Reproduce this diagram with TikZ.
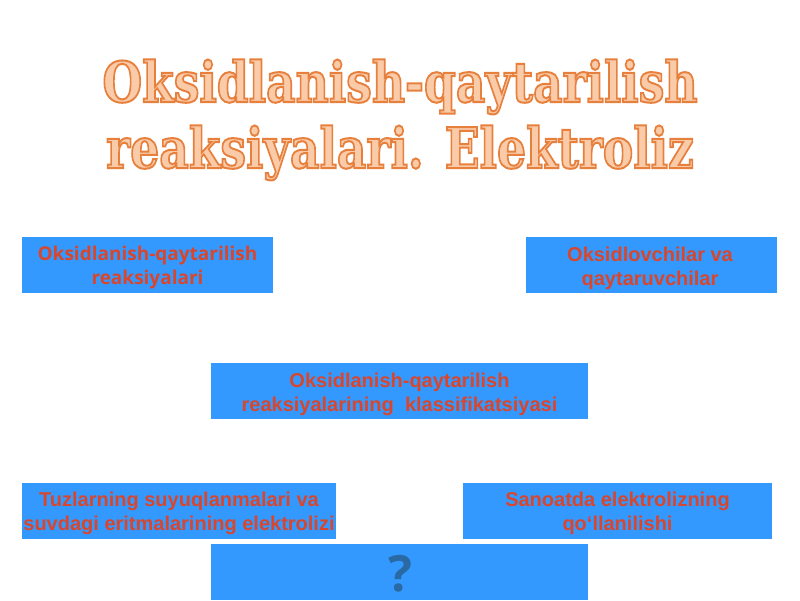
\documentclass[tikz,border=0pt]{standalone}
\usepackage{fontspec}
\setmainfont{Liberation Sans}
\newfontfamily\titlefont{DejaVu Serif}
\newfontfamily\qfont{Open Sans}
\definecolor{boxblue}{HTML}{3399FF}
\definecolor{boxtext}{HTML}{D9462C}
\definecolor{tfill}{HTML}{F9CBA8}
\definecolor{qcol}{HTML}{2A6AA4}
\newcommand{\outlined}[1]{%
  {\color{tfill}\special{pdf:code 2 Tr 2 w 0.91 0.50 0.24 RG}#1\special{pdf:code 0 Tr}}}
\tikzset{
  boxlabel/.style={text=boxtext, font=\bfseries\fontsize{20}{24}\selectfont, align=center, inner sep=0pt},
  titletext/.style={font=\titlefont\bfseries\fontsize{56}{66}\selectfont, inner sep=0pt}
}
\begin{document}
\begin{tikzpicture}[x=1pt,y=-1pt]
\useasboundingbox (0,0) rectangle (800,600);
\fill[white] (0,0) rectangle (800,600);
% title
\node[titletext, anchor=base] (t1) at (400,102) {\scalebox{0.815}[1]{\outlined{Oksidlanish-qaytarilish}}};
\node[titletext, anchor=base] (t2) at (400,168) {\scalebox{0.815}[1]{\outlined{reaksiyalari. Elektroliz}}};
% boxes
\fill[boxblue] (22,237) rectangle (273,293);
\node[boxlabel, font=\qfont\bfseries\fontsize{19}{24}\selectfont] (b1) at (147.5,268) {Oksidlanish-qaytarilish\\reaksiyalari};
\fill[boxblue] (526,237) rectangle (777,293);
\node[boxlabel] (b2) at (650,268) {Oksidlovchilar va\\qaytaruvchilar};
\fill[boxblue] (211,363) rectangle (588,419);
\node[boxlabel] (b3) at (399.5,394) {Oksidlanish-qaytarilish\\reaksiyalarining\ \ klassifikatsiyasi};
\fill[boxblue] (22,483) rectangle (336,539);
\node[boxlabel] (b4) at (179,513) {Tuzlarning suyuqlanmalari va\\suvdagi eritmalarining elektrolizi};
\fill[boxblue] (463,483) rectangle (772,539);
\node[boxlabel] (b5) at (617.5,513) {Sanoatda elektrolizning\\qo‘llanilishi};
\fill[boxblue] (211,544) rectangle (588,600);
\node[text=qcol, font=\qfont\bfseries\fontsize{50}{50}\selectfont, inner sep=0pt, anchor=base] (q) at (400,591) {?};
\end{tikzpicture}
\end{document}
